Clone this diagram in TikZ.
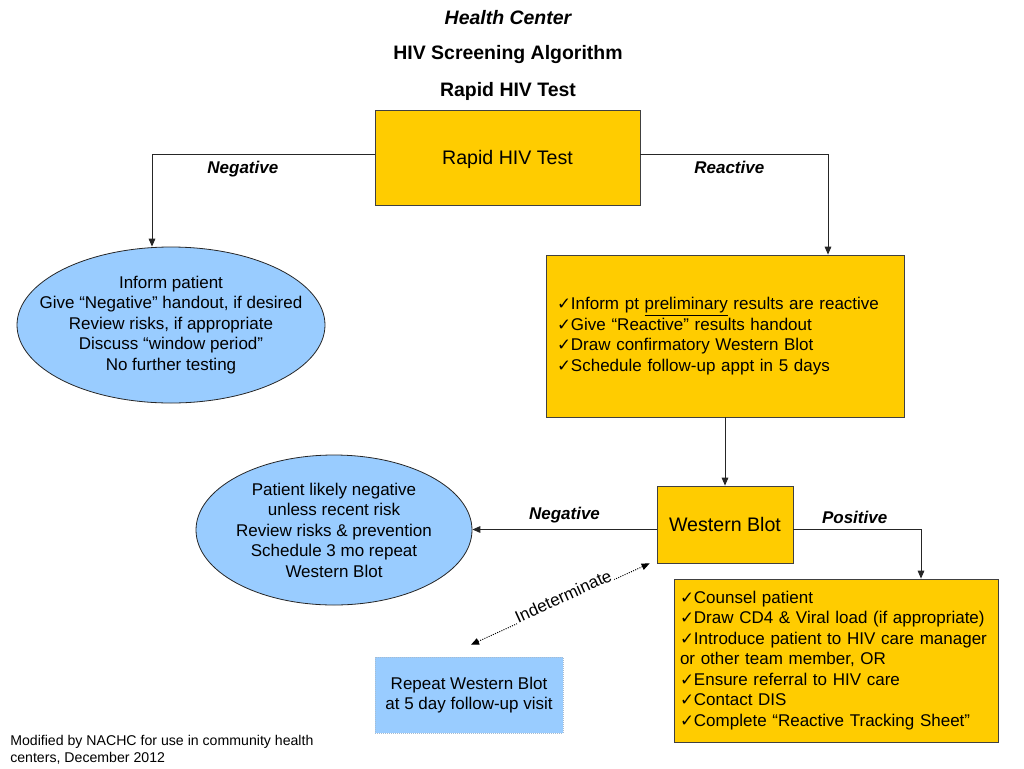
\documentclass[tikz,border=0pt]{standalone}
\usepackage{fontspec}
\setmainfont{Liberation Sans}
\newfontfamily\symfont{DejaVu Sans}
\usepackage{xcolor}
\usepackage{tikz}
\usetikzlibrary{positioning, shapes.geometric, arrows.meta}

\definecolor{boxgold}{HTML}{FFCC00}
\definecolor{boxblue}{HTML}{99CCFF}
\newcommand{\ck}{{\symfont\fontsize{12.5}{12}\selectfont ✓}}
\newcommand{\bodyfont}{\fontsize{12.75}{15.4}\selectfont}

\tikzset{
  goldbox/.style={rectangle, draw=black!75, fill=boxgold, line width=0.6pt, font=\bodyfont},
  bubble/.style={ellipse, draw=black!85, fill=boxblue, line width=0.6pt, inner sep=0pt},
  bubbletext/.style={align=center, inner sep=0pt, font=\bodyfont},
  link/.style={draw=black!85, line width=0.75pt, -{Triangle[length=6pt,width=5pt]}},
  branch/.style={font=\bfseries\itshape\bodyfont},
  headline/.style={font=\bfseries\fontsize{14.6}{17}\selectfont},
}

\begin{document}
\begin{tikzpicture}[x=0.75pt, y=-0.75pt]
	\useasboundingbox (0,0) rectangle (1024,768);
	\node[headline] (title1) at (508,18) {\itshape Health Center};
	\node[headline] (title2) at (508,55) {HIV Screening Algorithm};
	\node[headline] (title3) at (508,91) {Rapid HIV Test};

	\node[goldbox, minimum width=198.75pt, minimum height=71.25pt, text depth=0pt, font=\fontsize{14.7}{17}\selectfont] (rapid) at (507.5,157.5) {Rapid HIV Test};
	\node[bubble, minimum width=231pt, minimum height=117pt] (neginfo) at (171,325) {};
	\node[bubbletext] (neginfotext) at (neginfo.center)
		{Inform patient\\Give “Negative” handout, if desired\\Review risks, if appropriate\\Discuss “window period”\\No further testing};
	\node[goldbox, minimum width=268.5pt, minimum height=121.5pt, text width=252pt, inner xsep=8.25pt, align=left] (react) at (725,336)
		{\ck Inform pt \underline{preliminary} results are reactive\\\ck Give “Reactive” results handout\\\ck Draw confirmatory Western Blot\\\ck Schedule follow-up appt in 5 days};
	\node[goldbox, minimum width=102pt, minimum height=57.75pt, font=\fontsize{14.7}{17}\selectfont] (wb) at (725,524.5) {Western Blot};
	\node[bubble, minimum width=207pt, minimum height=112.5pt] (negwb) at (334,530) {};
	\node[bubbletext] (negwbtext) at (negwb.center)
		{Patient likely negative\\unless recent risk\\Review risks \& prevention\\Schedule 3 mo repeat\\Western Blot};
	\node[goldbox, minimum width=243pt, minimum height=122.25pt, text width=234pt, inner xsep=4.5pt, align=left] (posbox) at (836,660.5)
		{\hyphenpenalty=10000 \ck Counsel patient\\\ck Draw CD4 \& Viral load (if appropriate)\\\ck Introduce patient to HIV care manager\\or other team member, OR\\\ck Ensure referral to HIV care\\\ck Contact DIS\\\ck Complete “Reactive Tracking Sheet”};
	\node[rectangle, draw=boxblue!70!black!60, densely dotted, fill=boxblue, line width=0.5pt, minimum width=141pt, minimum height=57pt, align=center, font=\bodyfont] (rep) at (469,695)
		{Repeat Western Blot\\at 5 day follow-up visit};

	\node[anchor=north west, align=left, inner sep=0pt, font=\fontsize{10.6}{12.75}\selectfont] (note) at (10,735)
		{Modified by NACHC for use in community health\\centers, December 2012};

	\draw[link] ([yshift=2.6pt]rapid.west) -| ([xshift=-14.25pt]neginfo.north) node[branch, pos=0.296, below=2pt] (neglab) {Negative};
	\draw[link] ([yshift=2.6pt]rapid.east) -| ([xshift=77.25pt]react.north) node[branch, pos=0.237, below=2pt] (reactlab) {Reactive};
	\draw[link] (react.south) -- (wb.north);
	\draw[link] ([yshift=-3.75pt]wb.west) -- ([yshift=-3.75pt]wb.west -| negwb.east) node[branch, midway, above=1pt] (neglab2) {Negative};
	\draw[link] ([yshift=-3.75pt]wb.east) -| ([xshift=63.75pt]posbox.north) node[branch, pos=0.24, above=1pt] (poslab) {Positive};

	\coordinate (indtop) at ([xshift=-5.25pt]wb.south west);
	\coordinate (indbot) at ([xshift=1.5pt, yshift=9pt]rep.north);
	\draw[densely dotted, line width=0.75pt, {Triangle[length=6pt,width=5pt]}-{Triangle[length=6pt,width=5pt]}] (indbot) -- (indtop)
		node[sloped, pos=0.53, anchor=base, fill=white, inner sep=1pt, font=\bodyfont] (indlab) {Indeterminate};
\end{tikzpicture}
\end{document}
